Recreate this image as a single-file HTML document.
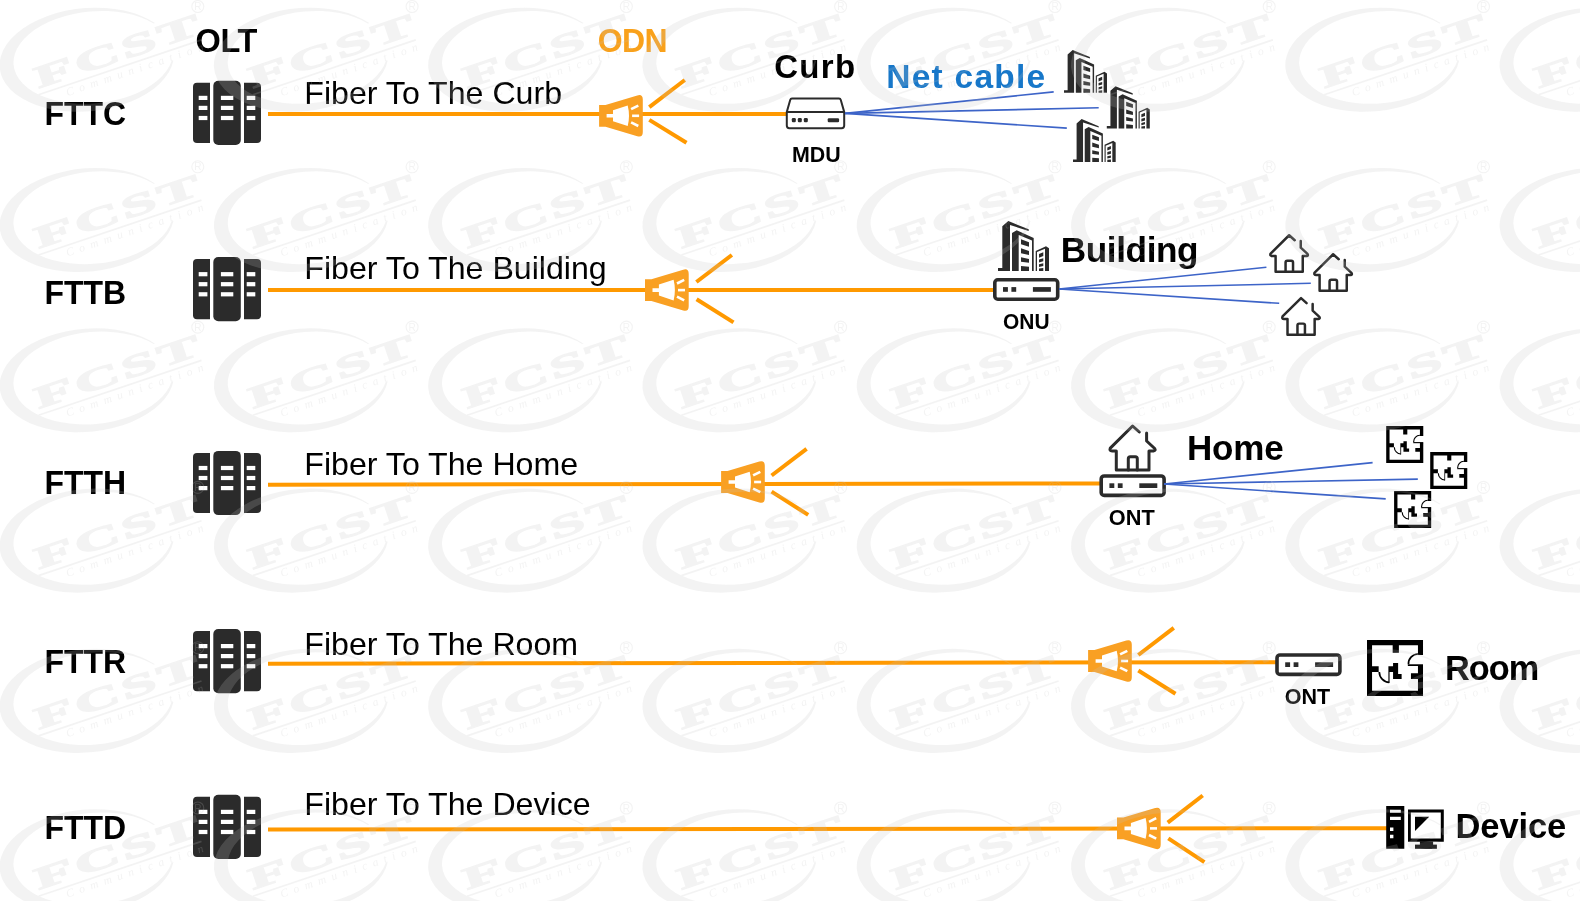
<!DOCTYPE html>
<html><head><meta charset="utf-8">
<style>
html,body{margin:0;padding:0;background:#fff;width:1580px;height:901px;overflow:hidden}
svg{display:block;will-change:transform}
</style></head>
<body>
<svg width="1580" height="901" viewBox="0 0 1580 901" font-family="Liberation Sans, sans-serif">
<defs>
  <!-- OLT icon 68 x 64.2 -->
  <g id="olt" fill="#2b2b2b">
    <path d="M4,2 H17 V62.2 H4 Q0,62.2 0,58.2 V6 Q0,2 4,2 Z"/>
    <rect x="20.3" y="0" width="27.5" height="64.2" rx="5"/>
    <path d="M51,2 H64 Q68,2 68,6 V58.2 Q68,62.2 64,62.2 H51 Z"/>
    <g fill="#fff">
      <rect x="5.7" y="15" width="8.7" height="4.2"/><rect x="5.7" y="25" width="8.7" height="4.2"/><rect x="5.7" y="35.1" width="8.7" height="4.2"/>
      <rect x="27.9" y="15" width="12.4" height="4.2"/><rect x="27.9" y="25" width="12.4" height="4.2"/><rect x="27.9" y="35.1" width="12.4" height="4.2"/>
      <rect x="53.7" y="15" width="8.6" height="4.2"/><rect x="53.7" y="25" width="8.6" height="4.2"/><rect x="53.7" y="35.1" width="8.6" height="4.2"/>
    </g>
  </g>
  <!-- splitter, origin at left edge, vertical center -->
  <g id="spl">
    <path fill="#f9a023" d="M0,-10.9 H6.4 L38.2,-20.4 Q43.7,-22 43.7,-16.2 V16.2 Q43.7,22 38.2,20.4 L6.4,10.9 H0 Z"/>
    <path fill="#fff" d="M7.5,-1.8 H13.9 V-5.5 L28.6,-10.3 Q31.2,0 28.6,10.3 L13.9,5.5 V1.8 H7.5 Z"/>
    <g stroke="#fff" stroke-width="2.6">
      <line x1="32" y1="-6.6" x2="39.2" y2="-10.2"/><line x1="33" y1="0" x2="40" y2="0"/><line x1="32" y1="6.6" x2="39.2" y2="10.2"/>
    </g>
  </g>
  <!-- network box (ONU/ONT) 66.5 x 23 -->
  <g id="onu">
    <rect x="1.8" y="1.8" width="62.9" height="19.4" rx="3" fill="#fff" stroke="#2b2b2b" stroke-width="3.6"/>
    <g fill="#2b2b2b"><rect x="10" y="9.1" width="4.9" height="4.7"/><rect x="18.4" y="9.1" width="4.8" height="4.7"/><rect x="39.9" y="9.1" width="18" height="4.7"/></g>
  </g>
  <!-- building 51 x 50 -->
  <g id="bld" fill="#2b2b2b">
    <path d="M0,47 H4.3 V5.3 L10.3,0 L30.7,8.3 V10 L12,4 V49.9 H0 Z"/>
    <path fill-rule="evenodd" d="M14,49.9 V12 L18.7,9.3 L35.7,17 V49.9 Z M20.7,14 L34,19.6 V49.9 H20.7 Z"/>
    <path d="M23,18.3 L31,21.3 V25.7 L23,23.3 Z M23,27.3 L31,30 V34 L23,32.3 Z M23,36.3 L31,38 V41.7 L23,40.7 Z M23,45 L31,45.7 V49.9 H23 Z"/>
    <path fill-rule="evenodd" d="M37.7,49.9 V30 L48,25.3 L51,27.3 V49.9 Z M39,31 L47,27.8 V49.9 H39 Z"/>
    <path d="M41,33 L45.3,31.3 V35 L41,36.7 Z M41,38.5 L45.3,37.2 V40.3 L41,41.5 Z M41,43.3 L45.3,42.3 V45 L41,46 Z M41,47.5 L45.3,47 V49.9 H41 Z"/>
  </g>
  <!-- house 49 x 48, stroke 3 -->
  <g id="house" fill="none" stroke="#2b2b2b" stroke-width="3" stroke-linecap="round" stroke-linejoin="round">
    <path d="M31.2,8.1 L24.5,2.1 L2.2,24.2 Q1,27.1 4,27.1 H8.2 V46.1 H40.9 V27.1 H45.4 Q48,26.8 46.6,24.6 L38.5,17.1 V9.1"/>
    <path d="M20.2,46.1 V34.8 Q20.2,32.8 22.2,32.8 H27.2 Q29.2,32.8 29.2,34.8 V46.1"/>
  </g>
  <!-- floor plan 72 x 72 units -->
  <g id="fp" fill="#000">
    <path d="M0,0 H72 V19.2 H65.5 V6.7 H41 V16.5 H33 V6.7 H6.5 V33.7 H15 V41.2 H6.5 V65.3 H65.5 V50.2 H56.5 V42.7 H65.5 V33.2 H72 V72 H0 Z"/>
    <path d="M52.5,31.2 H72 V33.4 H52.5 Z"/>
    <path d="M27.5,33.7 H40 V41.2 H27.5 Z M33.5,29.5 H40 V50.2 H33.5 Z M33.5,43.7 H44.5 V50.2 H33.5 Z M27.5,41 H29 V55.2 H27.5 Z"/>
    <path fill="none" stroke="#000" stroke-width="2.2" d="M15.8,41.2 A13.2,13.2 0 0 0 28.5,54.4"/>
    <path fill="none" stroke="#000" stroke-width="2.2" d="M65.5,18 A12.5,12.5 0 0 0 53.3,31.2"/>
  </g>
  <!-- watermark tile -->
  <g id="wmt" fill="#c4c4c4">
    <path d="M154.98,23.11 A87.5,51.6 -5.5 1 0 173.39,60.81 L171.58,60.88 A80,46 -5.5 1 1 153.6,23.39 Z"/>
    <g transform="translate(38.5,88.5) rotate(-18.6)">
      <text transform="scale(2.05,1)" x="0" y="0" font-family="Liberation Serif" font-weight="bold" font-size="31" letter-spacing="1.6" stroke="#c4c4c4" stroke-width="1.3">FCST</text>
      <rect x="-2" y="5" width="172" height="1.7"/>
      <text x="25" y="16.5" font-family="Liberation Serif" font-style="italic" font-size="11.5" letter-spacing="5.9">Communication</text>
    </g>
    <circle cx="197.8" cy="6.5" r="6" fill="none" stroke="#c4c4c4" stroke-width="1.1"/>
    <text x="194.3" y="10.2" font-family="Liberation Sans" font-size="10">R</text>
  </g>
</defs>

<!-- ===== headers ===== -->
<text transform="translate(195.5,52.1) scale(1,1.03)" font-size="32.5" font-weight="bold" fill="#000" letter-spacing="-0.3">OLT</text>
<text transform="translate(597.8,51.9) scale(1,1.04)" font-size="32" font-weight="bold" fill="#f9a11b" letter-spacing="-0.6">ODN</text>

<!-- ===== Row 1 FTTC ===== -->
<text transform="translate(44.5,124.8) scale(1,1.045)" font-size="32" font-weight="bold" fill="#000">FTTC</text>
<use href="#olt" x="193" y="80.8"/>
<line x1="268" y1="114" x2="787" y2="114" stroke="#ff9900" stroke-width="4"/>
<text x="304.3" y="103.7" font-size="32.14" fill="#000">Fiber To The Curb</text>
<use href="#spl" x="599.1" y="115.8"/>
<g stroke="#ff9900" stroke-width="4"><line x1="649.3" y1="107.2" x2="684.8" y2="80"/><line x1="649.3" y1="119.9" x2="686.5" y2="142.7"/></g>
<text x="774.2" y="77.5" font-size="33" font-weight="bold" fill="#000" letter-spacing="1.33">Curb</text>
<text x="886.3" y="87.6" font-size="33.5" font-weight="bold" fill="#1777c9" letter-spacing="1.25">Net cable</text>
<!-- MDU -->
<g fill="none" stroke="#2b2b2b" stroke-width="2">
  <path d="M792,98.6 H839 Q840.4,98.6 840.8,100 L844.2,112 V125.6 Q844.2,128.2 841.6,128.2 H789.4 Q786.8,128.2 786.8,125.6 V112 L790.2,100 Q790.6,98.6 792,98.6 Z"/>
  <line x1="786.8" y1="111.9" x2="844.2" y2="111.9"/>
</g>
<g fill="#2b2b2b"><rect x="791.8" y="118" width="4" height="4.3" rx="1.2"/><rect x="797.8" y="118" width="4" height="4.3" rx="1.2"/><rect x="803.8" y="118" width="4" height="4.3" rx="1.2"/><rect x="827.7" y="118.2" width="11.4" height="4.1" rx="1.2"/></g>
<text transform="translate(792,161.8) scale(0.961,1)" font-size="22.3" font-weight="bold" fill="#000">MDU</text>
<g stroke="#3d64c8" stroke-width="1.6" fill="none">
  <line x1="845" y1="113.4" x2="1053.7" y2="91.9"/>
  <line x1="845" y1="113.4" x2="1098.7" y2="107.8"/>
  <line x1="845" y1="113.4" x2="1066.8" y2="128.1"/>
</g>
<use href="#bld" transform="translate(1064,49.9) scale(0.843,0.86)"/>
<use href="#bld" transform="translate(1106.8,86.3) scale(0.843,0.846)"/>
<use href="#bld" transform="translate(1073,119) scale(0.837,0.86)"/>

<!-- ===== Row 2 FTTB ===== -->
<text transform="translate(44.5,303.9) scale(1,1.045)" font-size="32" font-weight="bold" fill="#000">FTTB</text>
<use href="#olt" x="193" y="257.1"/>
<line x1="268" y1="289.9" x2="995" y2="289.9" stroke="#ff9900" stroke-width="4"/>
<text x="304.3" y="279" font-size="32.14" fill="#000">Fiber To The Building</text>
<use href="#spl" x="645" y="290.1"/>
<g stroke="#ff9900" stroke-width="4"><line x1="696.4" y1="282" x2="731.9" y2="255"/><line x1="696.6" y1="299.2" x2="733.5" y2="322.4"/></g>
<use href="#bld" x="998" y="221"/>
<text x="1060.7" y="262.3" font-size="35.2" font-weight="bold" fill="#000" letter-spacing="-0.4">Building</text>
<use href="#onu" x="993" y="278"/>
<text transform="translate(1003,328.8) scale(0.94,1)" font-size="22.3" font-weight="bold" fill="#000">ONU</text>
<g stroke="#3d64c8" stroke-width="1.6" fill="none">
  <line x1="1059" y1="289" x2="1266.4" y2="267.3"/>
  <line x1="1059" y1="289" x2="1310.8" y2="283.3"/>
  <line x1="1059" y1="289" x2="1279.2" y2="303.3"/>
</g>
<use href="#house" transform="translate(1268.8,233.5) scale(0.83)"/>
<use href="#house" transform="translate(1312.8,252.5) scale(0.83)"/>
<use href="#house" transform="translate(1280.7,296.4) scale(0.83)"/>

<!-- ===== Row 3 FTTH ===== -->
<text transform="translate(44.5,494) scale(1,1.045)" font-size="32" font-weight="bold" fill="#000">FTTH</text>
<use href="#olt" x="193" y="450.9"/>
<line x1="268" y1="484.7" x2="1101" y2="483.4" stroke="#ff9900" stroke-width="4"/>
<text x="304.3" y="474.8" font-size="32.14" fill="#000">Fiber To The Home</text>
<use href="#spl" x="721.1" y="482"/>
<g stroke="#ff9900" stroke-width="4"><line x1="771.6" y1="475.5" x2="806.6" y2="448.9"/><line x1="771.6" y1="491.6" x2="808.2" y2="514.9"/></g>
<use href="#house" x="1108.1" y="423.9"/>
<use href="#onu" x="1099.4" y="474.2"/>
<text transform="translate(1108.8,524.8) scale(0.975,1)" font-size="22.3" font-weight="bold" fill="#000">ONT</text>
<text x="1187" y="460.1" font-size="35" font-weight="bold" fill="#000" letter-spacing="-0.17">Home</text>
<g stroke="#3d64c8" stroke-width="1.6" fill="none">
  <line x1="1164" y1="484" x2="1372.6" y2="462.6"/>
  <line x1="1164" y1="484" x2="1417.8" y2="479.1"/>
  <line x1="1164" y1="484" x2="1385.7" y2="498.9"/>
</g>
<use href="#fp" transform="translate(1386.2,426) scale(0.515)"/>
<use href="#fp" transform="translate(1430.2,452) scale(0.515)"/>
<use href="#fp" transform="translate(1394.1,491) scale(0.515)"/>

<!-- ===== Row 4 FTTR ===== -->
<text transform="translate(44.5,672.7) scale(1,1.045)" font-size="32" font-weight="bold" fill="#000">FTTR</text>
<use href="#olt" x="193" y="629"/>
<line x1="268" y1="663.7" x2="1277" y2="662.2" stroke="#ff9900" stroke-width="4"/>
<text x="304.3" y="655.2" font-size="32.14" fill="#000">Fiber To The Room</text>
<use href="#spl" x="1088.1" y="661"/>
<g stroke="#ff9900" stroke-width="4"><line x1="1138.3" y1="655" x2="1173.8" y2="627.8"/><line x1="1138.3" y1="670.5" x2="1175.5" y2="693.8"/></g>
<use href="#onu" x="1275.2" y="653.2"/>
<text transform="translate(1284.8,703.8) scale(0.965,1)" font-size="22.3" font-weight="bold" fill="#000">ONT</text>
<use href="#fp" transform="translate(1367,640) scale(0.778)"/>
<text x="1445" y="679.8" font-size="34.3" font-weight="bold" fill="#000" letter-spacing="-1">Room</text>

<!-- ===== Row 5 FTTD ===== -->
<text transform="translate(44.5,838.5) scale(1,1.045)" font-size="32" font-weight="bold" fill="#000">FTTD</text>
<use href="#olt" x="193" y="794.8"/>
<line x1="268" y1="829.5" x2="1388" y2="828.2" stroke="#ff9900" stroke-width="4"/>
<text x="304.3" y="814.6" font-size="32.14" fill="#000">Fiber To The Device</text>
<use href="#spl" x="1117" y="828.4"/>
<g stroke="#ff9900" stroke-width="4"><line x1="1167.7" y1="822.7" x2="1202.7" y2="795.5"/><line x1="1168.3" y1="838.3" x2="1204.4" y2="862.2"/></g>
<!-- device -->
<g fill="#000">
  <path fill-rule="evenodd" d="M1386.2,805.9 H1404.3 V848.8 H1386.2 Z M1390,809.8 H1400.8 V812.8 H1390 Z M1390,816.7 H1400.8 V820.1 H1390 Z M1390,827.5 H1393.4 V831 H1390 Z M1390,834.7 H1393.4 V838.2 H1390 Z"/>
  <path fill-rule="evenodd" d="M1408,809.4 H1443.8 V841.8 H1408 Z M1410.8,812.4 H1440.8 V838.6 H1410.8 Z"/>
  <path d="M1415,816.7 H1429.2 L1415,831 Z"/>
  <rect x="1419.9" y="841.4" width="13.2" height="3.8"/>
  <rect x="1415" y="844.6" width="21.9" height="4.2"/>
</g>
<text x="1455.5" y="837.6" font-size="34.5" font-weight="bold" fill="#000" letter-spacing="-0.1">Device</text>

<!-- watermark overlay -->
<g opacity="0.2"><use href="#wmt" x="0.00" y="0.0"/><use href="#wmt" x="214.28" y="0.0"/><use href="#wmt" x="428.56" y="0.0"/><use href="#wmt" x="642.84" y="0.0"/><use href="#wmt" x="857.12" y="0.0"/><use href="#wmt" x="1071.40" y="0.0"/><use href="#wmt" x="1285.68" y="0.0"/><use href="#wmt" x="1499.96" y="0.0"/><use href="#wmt" x="0.00" y="160.3"/><use href="#wmt" x="214.28" y="160.3"/><use href="#wmt" x="428.56" y="160.3"/><use href="#wmt" x="642.84" y="160.3"/><use href="#wmt" x="857.12" y="160.3"/><use href="#wmt" x="1071.40" y="160.3"/><use href="#wmt" x="1285.68" y="160.3"/><use href="#wmt" x="1499.96" y="160.3"/><use href="#wmt" x="0.00" y="320.6"/><use href="#wmt" x="214.28" y="320.6"/><use href="#wmt" x="428.56" y="320.6"/><use href="#wmt" x="642.84" y="320.6"/><use href="#wmt" x="857.12" y="320.6"/><use href="#wmt" x="1071.40" y="320.6"/><use href="#wmt" x="1285.68" y="320.6"/><use href="#wmt" x="1499.96" y="320.6"/><use href="#wmt" x="0.00" y="480.9"/><use href="#wmt" x="214.28" y="480.9"/><use href="#wmt" x="428.56" y="480.9"/><use href="#wmt" x="642.84" y="480.9"/><use href="#wmt" x="857.12" y="480.9"/><use href="#wmt" x="1071.40" y="480.9"/><use href="#wmt" x="1285.68" y="480.9"/><use href="#wmt" x="1499.96" y="480.9"/><use href="#wmt" x="0.00" y="641.2"/><use href="#wmt" x="214.28" y="641.2"/><use href="#wmt" x="428.56" y="641.2"/><use href="#wmt" x="642.84" y="641.2"/><use href="#wmt" x="857.12" y="641.2"/><use href="#wmt" x="1071.40" y="641.2"/><use href="#wmt" x="1285.68" y="641.2"/><use href="#wmt" x="1499.96" y="641.2"/><use href="#wmt" x="0.00" y="801.5"/><use href="#wmt" x="214.28" y="801.5"/><use href="#wmt" x="428.56" y="801.5"/><use href="#wmt" x="642.84" y="801.5"/><use href="#wmt" x="857.12" y="801.5"/><use href="#wmt" x="1071.40" y="801.5"/><use href="#wmt" x="1285.68" y="801.5"/><use href="#wmt" x="1499.96" y="801.5"/></g>
</svg>
</body></html>
